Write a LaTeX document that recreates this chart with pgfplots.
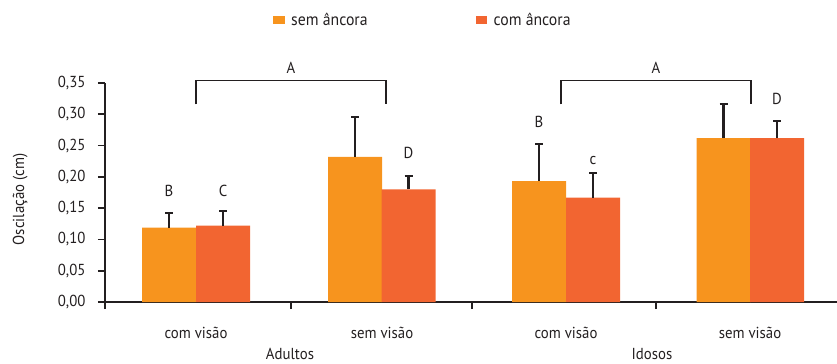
\documentclass[border=0pt]{standalone}
\usepackage{pgfplots}
\pgfplotsset{compat=1.18}
\usepackage{fontspec}
\setmainfont{PT Sans}[FakeStretch=0.93]
\definecolor{semA}{HTML}{F7941E}
\definecolor{comA}{HTML}{F26531}
\definecolor{ink}{HTML}{231F20}
\newcommand{\lf}{\fontsize{16}{18}\selectfont}
\begin{document}
\begin{tikzpicture}[x=1bp,y=1bp]
\path[use as bounding box] (0,0) rectangle (837,363);
\begin{axis}[
  at={(105bp,61bp)}, anchor=south west,
  scale only axis, width=732bp, height=219bp,
  xmin=105, xmax=837, ymin=0, ymax=0.35,
  clip=false,
  axis x line=bottom, axis y line=left,
  axis line style={ink, line width=1.8bp, -},
  every tick/.style={ink, line width=1.8bp},
  xtick={105,291,472,656}, xticklabels={},
  major tick length=7bp,
  xtick align=outside, ytick align=outside,
  ytick={0,0.05,...,0.35},
  yticklabel style={xshift=-9bp, /pgf/number format/.cd, use comma, fixed, fixed zerofill, precision=2, assume math mode=true},
  ticklabel style={font=\lf, text=ink},
  ybar, bar width=54bp, bar shift=0pt,
  error bars/y dir=plus, error bars/y explicit,
  error bars/error bar style={ink, line width=2.2bp},
  error bars/error mark options={rotate=90, mark size=4bp, line width=2.2bp, ink},
  legend style={draw=none, fill=none, at={(0.2295,1.289)}, anchor=west, inner sep=0pt,
    font=\fontsize{17}{19}\selectfont, text=ink, legend columns=2,
    /tikz/every even column/.append style={column sep=106bp}},
  legend image code/.code={\fill[#1] (0bp,-4bp) rectangle (11.5bp,4bp); \path (16bp,0bp);},
]
\addplot[fill=semA, draw=none] coordinates {
  (169,0.119) +- (0,0.023)
  (355,0.232) +- (0,0.064)
  (539,0.193) +- (0,0.060)
  (723.5,0.262) +- (0,0.055)
};
\addlegendentry{sem âncora}
\addplot[fill=comA, draw=none] coordinates {
  (223,0.122) +- (0,0.023)
  (408.5,0.180) +- (0,0.022)
  (593,0.167) +- (0,0.039)
  (777,0.262) +- (0,0.027)
};
\addlegendentry{com âncora}
% brackets
\draw[ink, line width=1.8bp] (axis cs:196,0.316) -- (axis cs:196,0.354) -- (axis cs:386,0.354) -- (axis cs:386,0.316);
\draw[ink, line width=1.8bp] (axis cs:561,0.316) -- (axis cs:561,0.354) -- (axis cs:751,0.354) -- (axis cs:751,0.316);
\tikzset{lab/.style={font=\lf, text=ink, anchor=center, inner sep=0pt}}
\node[lab] at (axis cs:291,0.374) {A};
\node[lab] at (axis cs:656,0.374) {A};
\node[lab] at (axis cs:169,0.178) {B};
\node[lab] at (axis cs:223,0.178) {C};
\node[lab] at (axis cs:408.5,0.238) {D};
\node[lab] at (axis cs:539,0.288) {B};
\node[lab] at (axis cs:593,0.226) {c};
\node[lab] at (axis cs:777,0.324) {D};
% category labels
\node[lab] at (axis cs:196,-0.0498) {com visão};
\node[lab] at (axis cs:382,-0.0498) {sem visão};
\node[lab] at (axis cs:566,-0.0498) {com visão};
\node[lab] at (axis cs:750,-0.0498) {sem visão};
\node[lab] at (axis cs:290,-0.0835) {Adultos};
\node[lab] at (axis cs:652,-0.0835) {Idosos};
\node[lab, rotate=90] at (rel axis cs:-0.116,0.468) {Oscilação (cm)};
\end{axis}
\end{tikzpicture}
\end{document}
